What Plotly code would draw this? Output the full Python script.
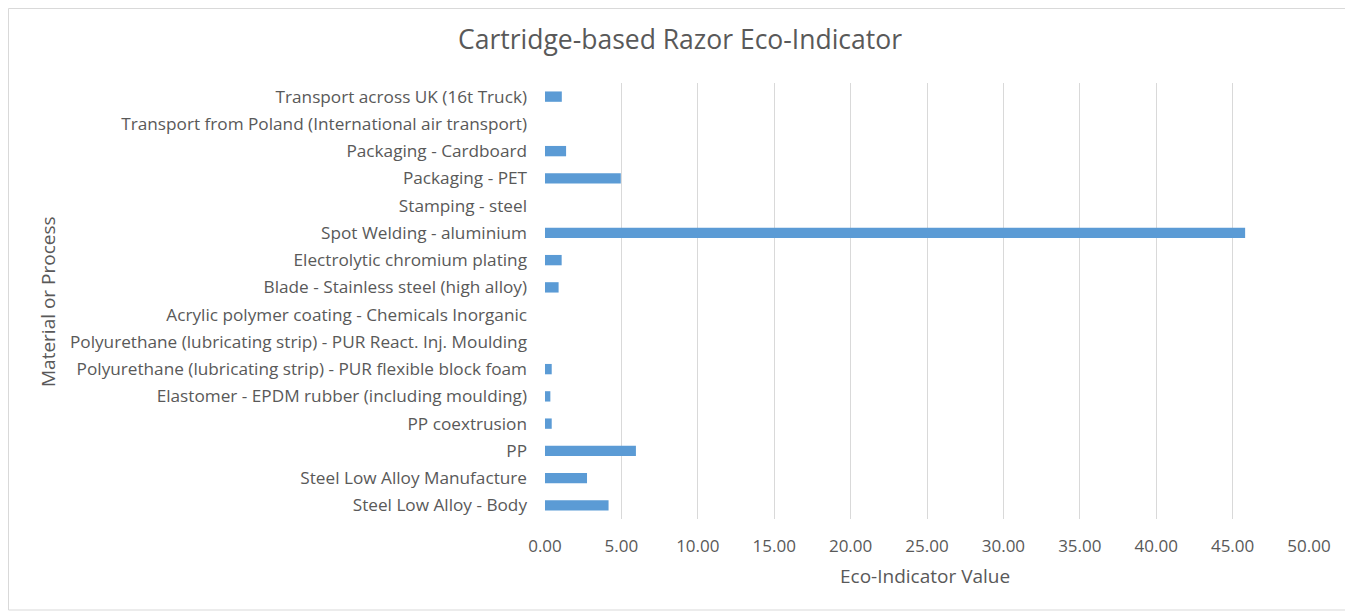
import plotly.graph_objects as go

categories = [
    "Steel Low Alloy - Body",
    "Steel Low Alloy Manufacture",
    "PP",
    "PP coextrusion",
    "Elastomer - EPDM rubber (including moulding)",
    "Polyurethane (lubricating strip) - PUR flexible block foam",
    "Polyurethane (lubricating strip) - PUR React. Inj. Moulding",
    "Acrylic polymer coating - Chemicals Inorganic",
    "Blade - Stainless steel (high alloy)",
    "Electrolytic chromium plating",
    "Spot Welding - aluminium",
    "Stamping - steel",
    "Packaging - PET",
    "Packaging - Cardboard",
    "Transport from Poland (International air transport)",
    "Transport across UK (16t Truck)",
]
values = [4.16, 2.75, 5.95, 0.44, 0.35, 0.44, 0.0, 0.0, 0.89, 1.09, 45.82, 0.0, 4.96, 1.38, 0.0, 1.10]
tick_vals = [0, 5, 10, 15, 20, 25, 30, 35, 40, 45, 50]
tick_text = [f"{v:.2f}" for v in tick_vals]

# page is offset by the 8px body margin; work in figure coordinates
OFF = 8
W, H = 1353 - OFF, 613 - OFF
L, R, T, B = 545 - OFF, 1309 - OFF, 83 - OFF, 519 - OFF
PW, PH = R - L, B - T

fig = go.Figure(go.Bar(
    y=categories, x=values, orientation="h",
    marker=dict(color="#5B9BD5", line=dict(width=0)),
))

grey = "#595959"
fig.update_layout(
    width=W, height=H,
    margin=dict(l=L, r=W - R, t=T, b=H - B, pad=0),
    paper_bgcolor="white", plot_bgcolor="white",
    font=dict(family="Open Sans", size=17, color=grey),
    bargap=0.62,
    showlegend=False,
    title=dict(text="Cartridge-based Razor Eco-Indicator",
               x=(672) / W, xanchor="center",
               y=1 - (40 - OFF) / H, yanchor="middle",
               font=dict(size=26.5, color=grey)),
    xaxis=dict(range=[0, 50], tickvals=tick_vals, ticktext=tick_text,
               showgrid=True, gridcolor="#D9D9D9", gridwidth=1,
               zeroline=False, showline=False, ticks="",
               ticklabelstandoff=15, automargin=False,
               tickfont=dict(size=17, color=grey)),
    yaxis=dict(showgrid=False, zeroline=False, showline=False, ticks="",
               ticklabelstandoff=17, automargin=False,
               tickfont=dict(size=17.2, color=grey)),
)

fig.add_annotation(text="Eco-Indicator Value",
                   xref="paper", yref="paper",
                   x=(925 - 545) / PW, y=(B - (576 - OFF)) / PH,
                   xanchor="center", yanchor="middle",
                   showarrow=False, font=dict(size=19, color=grey))

fig.add_annotation(text="Material or Process", textangle=-90,
                   xref="paper", yref="paper",
                   x=(48 - OFF - L) / PW, y=(B - (302 - OFF)) / PH,
                   xanchor="center", yanchor="middle",
                   showarrow=False, font=dict(size=19, color=grey))

fig.add_shape(type="rect", xref="paper", yref="paper",
              x0=(0.5 - L) / PW, x1=(1350 - OFF - L) / PW,
              y0=(B - (610 - OFF)) / PH, y1=(B - 0.5) / PH,
              line=dict(color="#D9D9D9", width=1), layer="below")

fig.write_html("out.html")
